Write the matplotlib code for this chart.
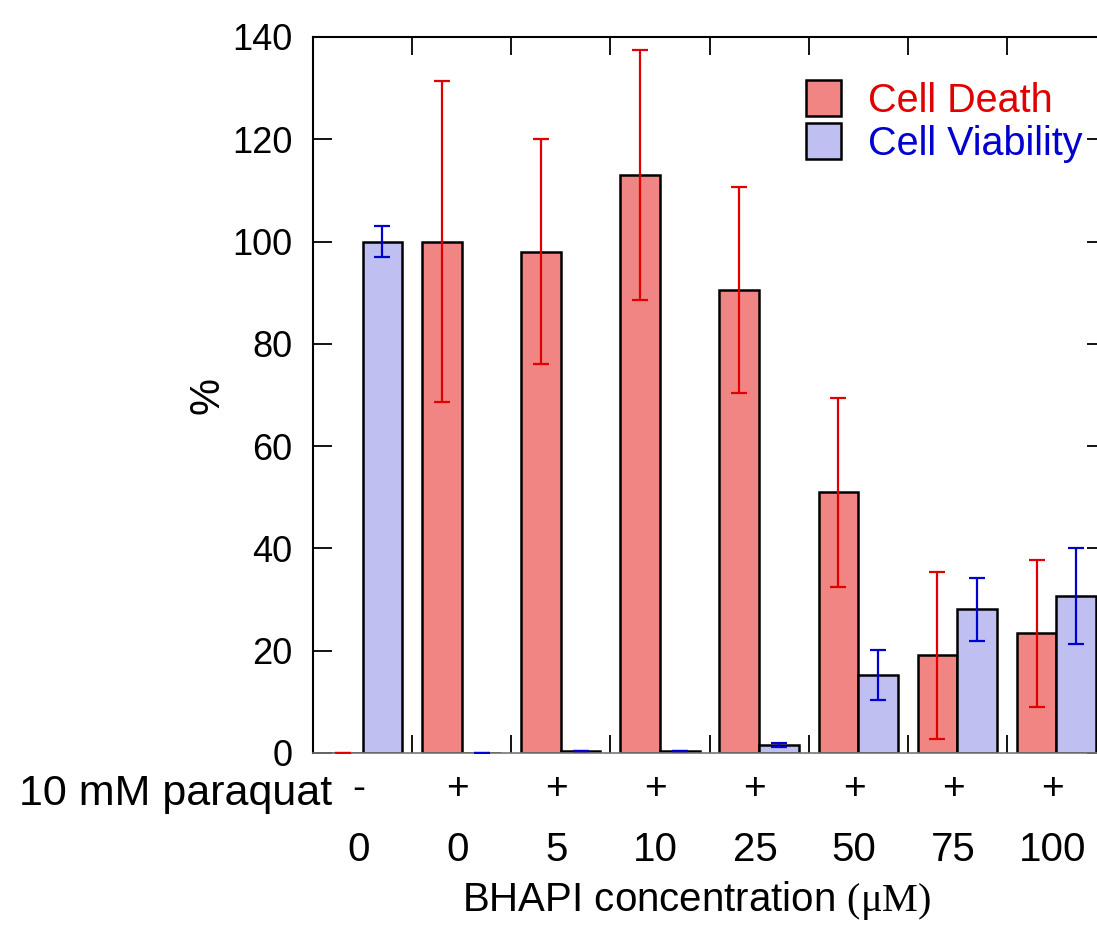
import matplotlib.pyplot as plt
import numpy as np

plt.rcParams['font.family'] = ['Liberation Sans', 'DejaVu Sans']
plt.rcParams['mathtext.fontset'] = 'custom'
plt.rcParams['mathtext.rm'] = 'Liberation Serif'

# data
paraquat = ["-", "+", "+", "+", "+", "+", "+", "+"]
bhapi = ["0", "0", "5", "10", "25", "50", "75", "100"]
death = [0, 100, 98, 113, 90.5, 51, 19.1, 23.4]
death_err = [0, 31.3, 22, 24.5, 20.2, 18.5, 16.3, 14.4]
viability = [100, 0, 0.3, 0.4, 1.5, 15.2, 28.1, 30.7]
viability_err = [3, 0, 0, 0, 0.4, 4.9, 6.2, 9.4]

fig = plt.figure(figsize=(10.97, 9.39), dpi=100)
ax = fig.add_axes([313 / 1097, 186 / 939, 793 / 1097, 716 / 939])

x = np.arange(len(bhapi))
w = 0.4
ax.bar(x - w / 2, death, w, color="#f08584", edgecolor="black", linewidth=1.8,
       label="Cell Death", zorder=2)
ax.bar(x + w / 2, viability, w, color="#bfbff2", edgecolor="black", linewidth=1.8,
       label="Cell Viability", zorder=2)
ax.errorbar(x - w / 2, death, yerr=death_err, fmt="none", ecolor="#e00000",
            elinewidth=1.6, capsize=5.5, capthick=1.6, zorder=3)
ax.errorbar(x + w / 2, viability, yerr=viability_err, fmt="none", ecolor="#0000d0",
            elinewidth=1.6, capsize=5.5, capthick=1.6, zorder=3)

ax.set_xlim(-0.5, len(bhapi) - 0.5)
ax.set_ylim(0, 140)
ax.set_yticks(np.arange(0, 141, 20))
ax.tick_params(axis="y", which="both", direction="in", length=14, width=1.3,
               labelsize=26, pad=15, right=True)

# group separators as minor ticks on top and bottom
ax.set_xticks(x[:-1] + 0.5, minor=True)
ax.set_xticks(x)
ax.set_xticklabels([])
ax.tick_params(axis="x", which="major", length=0)
ax.tick_params(axis="x", which="minor", direction="in", length=13, width=1.3,
               top=True, bottom=True)

for s in ["left", "top"]:
    ax.spines[s].set_linewidth(1.5)
ax.spines["bottom"].set_color("#777777")
ax.spines["bottom"].set_linewidth(1.2)
ax.spines["right"].set_visible(False)

# two rows of category labels under the axis
for xi, p, c in zip(x, paraquat, bhapi):
    ax.annotate(p, xy=(xi, 0), xycoords=("data", "axes fraction"),
                xytext=(-3, -26), textcoords="offset points",
                ha="center", va="center", fontsize=28)
    ax.annotate(c, xy=(xi, 0), xycoords=("data", "axes fraction"),
                xytext=(-3, -70), textcoords="offset points",
                ha="center", va="center", fontsize=29)
fig.text(332 / 1097, 1 - 794 / 939, "10 mM paraquat", ha="right", va="center",
         fontsize=31)
fig.text(697 / 1097, 1 - 900 / 939, r"BHAPI concentration $\mathrm{(\mu M)}$",
         ha="center", va="center", fontsize=29)

ax.set_ylabel("%", fontsize=30)
ax.yaxis.set_label_coords(-0.108, 0.5)

ax.legend(loc="upper left", bbox_to_anchor=(0.597, 0.968), frameon=False,
          fontsize=28.5, handlelength=0.87, handleheight=1.05, handletextpad=0.7,
          labelspacing=0.08, borderpad=0, labelcolor=["#e00000", "#0000d0"])

plt.savefig("out.png", dpi=100)
